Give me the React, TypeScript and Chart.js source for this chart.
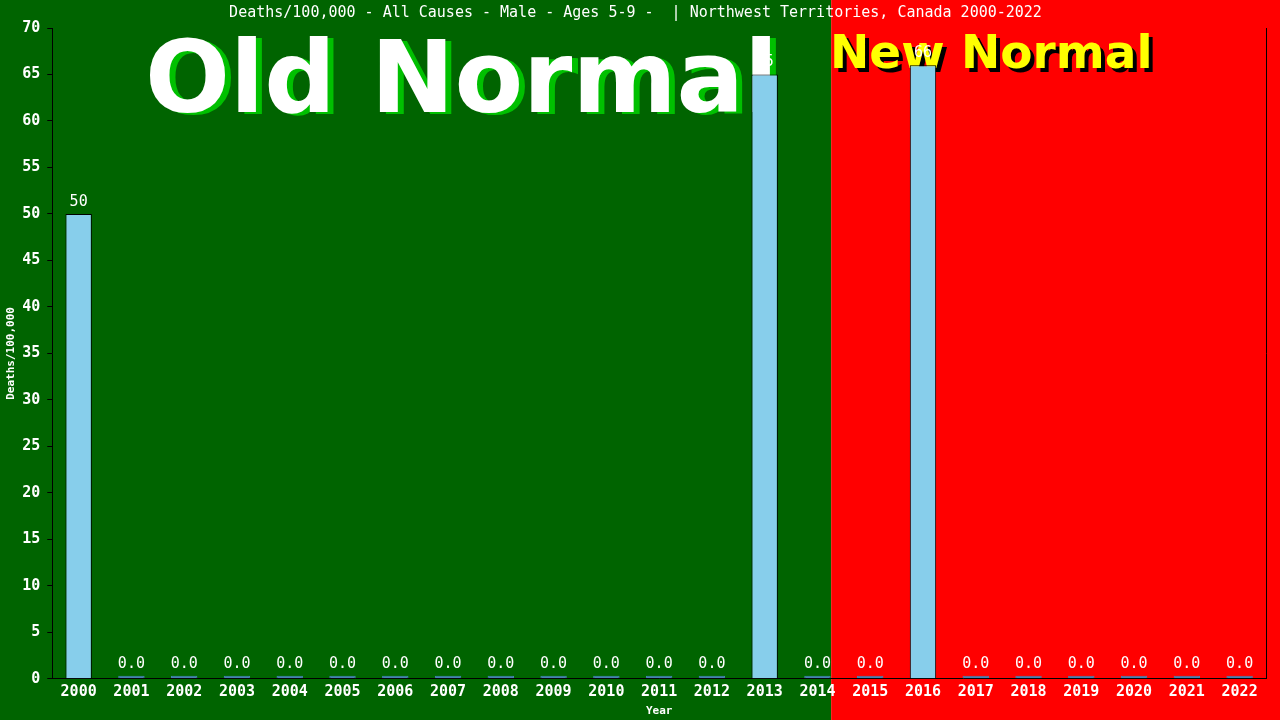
import React, { useEffect, useRef } from "react";
import { Chart, registerables } from "chart.js";

Chart.register(...registerables);

const years = ["2000","2001","2002","2003","2004","2005","2006","2007","2008","2009","2010","2011","2012","2013","2014","2015","2016","2017","2018","2019","2020","2021","2022"];
const deaths = [50,0,0,0,0,0,0,0,0,0,0,0,0,65,0,0,66,0,0,0,0,0,0];
const yTicks = [0,5,10,15,20,25,30,35,40,45,50,55,60,65,70];
const titleText = "Deaths/100,000 - All Causes - Male - Ages 5-9 -  | Northwest Territories, Canada 2000-2022";
const splitValue = 14.26;

const MONO = "'DejaVu Sans Mono', monospace";

export default function App() {
  const ref = useRef<HTMLCanvasElement | null>(null);
  useEffect(() => {
    document.body.style.margin = "0";
    const canvas = ref.current!;
    const bgPlugin = {
      id: "bg",
      beforeDraw(chart: any) {
        const { ctx, width, height } = chart;
        const split = chart.scales.x.getPixelForValue(splitValue);
        ctx.save();
        ctx.fillStyle = "#006400";
        ctx.fillRect(0, 0, split, height);
        ctx.fillStyle = "#ff0000";
        ctx.fillRect(split, 0, width - split, height);
        ctx.restore();
      },
      beforeDatasetsDraw(chart: any) {
        const { ctx } = chart;
        ctx.save();
        ctx.textBaseline = "alphabetic";
        ctx.textAlign = "left";
        ctx.font = "bold 100px 'DejaVu Sans'";
        ctx.fillStyle = "#00c000";
        ctx.fillText("Old Normal", 145 + 6, 112 + 2);
        ctx.fillStyle = "#ffffff";
        ctx.fillText("Old Normal", 145, 112);
        ctx.font = "bold 47px 'DejaVu Sans'";
        ctx.fillStyle = "#000000";
        ctx.fillText("New Normal", 830 + 4, 68 + 4);
        ctx.fillStyle = "#ffff00";
        ctx.fillText("New Normal", 830, 68);
        ctx.restore();
      },
      afterDatasetsDraw(chart: any) {
        const { ctx } = chart;
        const meta = chart.getDatasetMeta(0);
        ctx.save();
        ctx.fillStyle = "#ffffff";
        ctx.textAlign = "center";
        ctx.textBaseline = "middle";
        ctx.font = "15px " + MONO;
        meta.data.forEach((el: any, i: number) => {
          const v = deaths[i];
          const label = v === 0 ? "0.0" : String(v);
          ctx.fillText(label, el.x, el.y - 12);
        });
        ctx.restore();
      },
    };
    const chart = new Chart(canvas, {
      type: "bar",
      data: {
        labels: years,
        datasets: [
          {
            data: deaths,
            backgroundColor: (c: any) => (deaths[c.dataIndex] === 0 ? "#4682b4" : "#87ceeb"),
            borderColor: (c: any) => (deaths[c.dataIndex] === 0 ? "#4682b4" : "#000000"),
            borderWidth: 1,
            minBarLength: 3,
            barPercentage: 0.5,
            categoryPercentage: 1,
          },
        ],
      },
      options: {
        animation: false,
        responsive: false,
        maintainAspectRatio: false,
        layout: { padding: { left: 5, right: 14, top: 0, bottom: 2 } },
        plugins: {
          legend: { display: false },
          tooltip: { enabled: false },
          title: {
            display: true,
            text: titleText,
            color: "#ffffff",
            font: { family: MONO, size: 15, weight: "normal" },
            padding: { top: 4, bottom: 6 },
          },
        },
        scales: {
          x: {
            grid: { display: true, drawOnChartArea: false, drawTicks: false, tickLength: 0 },
            border: { display: true, color: "#000000", width: 1 },
            ticks: {
              color: "#ffffff",
              font: { family: MONO, size: 15, weight: "bold" },
              maxRotation: 0,
              autoSkip: false,
              padding: 4,
            },
            title: {
              display: true,
              text: "Year",
              color: "#ffffff",
              font: { family: MONO, size: 11, weight: "bold" },
              padding: { top: 0, bottom: 0 },
            },
          },
          y: {
            min: 0,
            max: 70,
            afterBuildTicks: (axis: any) => {
              axis.ticks = yTicks.map((v) => ({ value: v }));
            },
            grid: {
              display: true,
              drawOnChartArea: false,
              drawTicks: true,
              tickLength: 5,
              tickColor: "#000000",
            },
            border: { display: true, color: "#000000", width: 1 },
            ticks: {
              color: "#ffffff",
              font: { family: MONO, size: 15, weight: "bold" },
              padding: 7,
            },
            title: {
              display: true,
              text: "Deaths/100,000",
              color: "#ffffff",
              font: { family: MONO, size: 11, weight: "bold" },
              padding: { top: 0, bottom: -3 },
            },
          },
          y2: {
            position: "right",
            min: 0,
            max: 70,
            grid: { display: false, drawTicks: false },
            border: { display: true, color: "#000000", width: 1 },
            ticks: { display: false },
          },
        },
      },
      plugins: [bgPlugin],
    } as any);
    return () => chart.destroy();
  }, []);
  return <canvas ref={ref} width={1280} height={720} style={{ display: "block", width: 1280, height: 720 }} />;
}
